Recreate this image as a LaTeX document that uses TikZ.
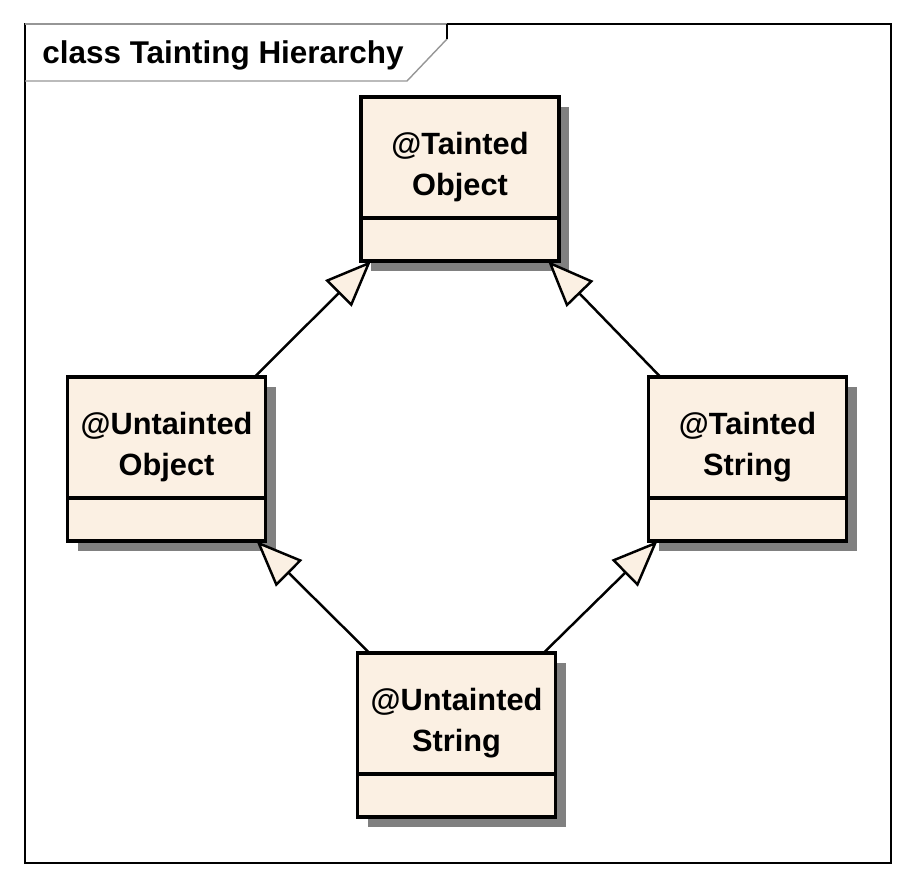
\documentclass[tikz,border=0pt]{standalone}
\usepackage{fontspec}
\setmainfont{Liberation Sans}
\usetikzlibrary{calc, positioning, shadows, arrows.meta}

\definecolor{classfill}{RGB}{251,240,227}
\definecolor{shadowgray}{RGB}{128,128,128}
\definecolor{tabgray}{RGB}{150,150,150}

\begin{document}
\begin{tikzpicture}[>=Triangle]

	% --- Dimensioni ---
	\def\boxW{3.96}
	\def\nameH{2.42}
	\def\attrH{0.86}

	% --- Stili ---
	\tikzset{
		classname/.style={draw=black, line width=2pt, fill=classfill, minimum width=\boxW cm, minimum height=\nameH cm,
			align=center, inner sep=0pt, outer sep=0pt, font=\fontsize{17.5}{23}\selectfont\bfseries,
			text height=43pt, text depth=0pt,
			drop shadow={shadow xshift=0.2cm, shadow yshift=-0.2cm, fill=shadowgray, opacity=1}},
		classattr/.style={classname, minimum height=\attrH cm, text height=0pt},
		generalization/.style={line width=1.4pt, -{Triangle[length=0.92cm, width=0.74cm, fill=classfill, line width=1.4pt]}},
		tab/.style={draw=tabgray, line width=0.8pt}
	}

	\useasboundingbox (0,0) rectangle (18.38,-17.8);

	% --- Cornice del diagramma ---
	\draw[line width=0.6pt] (0.5,-0.48) rectangle (17.82,-17.26);
	\draw[tab] (0.5,-0.48) -- (8.94,-0.48);
	\draw[tab] (8.94,-0.78) -- (8.14,-1.62) -- (0.5,-1.62);
	\draw[line width=0.6pt] (8.94,-0.48) -- (8.94,-0.78);
	\node[anchor=base west, inner sep=0pt, font=\fontsize{17.9}{20}\selectfont\bfseries] (title) at (0.84,-1.26) {class Tainting Hierarchy};

	% --- Classi ---
	\node[classname, anchor=north] (tobj) at (9.2,-1.94) {@Tainted\\Object};
	\node[classattr, below=0pt of tobj] (tobjattr) {};

	\node[classname, anchor=north] (uobj) at (3.33,-7.54) {@Untainted\\Object};
	\node[classattr, below=0pt of uobj] (uobjattr) {};

	\node[classname, anchor=north] (tstr) at (14.95,-7.54) {@Tainted\\String};
	\node[classattr, below=0pt of tstr] (tstrattr) {};

	\node[classname, anchor=north] (ustr) at (9.13,-13.06) {@Untainted\\String};
	\node[classattr, below=0pt of ustr] (ustrattr) {};

	% --- Generalizzazioni ---
	\draw[generalization] ($(uobj.north east)+(-0.22,0)$) -- ($(tobjattr.south west)+(0.2,0)$);
	\draw[generalization] ($(tstr.north west)+(0.24,0)$) -- ($(tobjattr.south east)+(-0.22,0)$);
	\draw[generalization] ($(ustr.north west)+(0.24,0)$) -- ($(uobjattr.south east)+(-0.18,0)$);
	\draw[generalization] ($(ustr.north east)+(-0.24,0)$) -- ($(tstrattr.south west)+(0.18,0)$);

\end{tikzpicture}
\end{document}
